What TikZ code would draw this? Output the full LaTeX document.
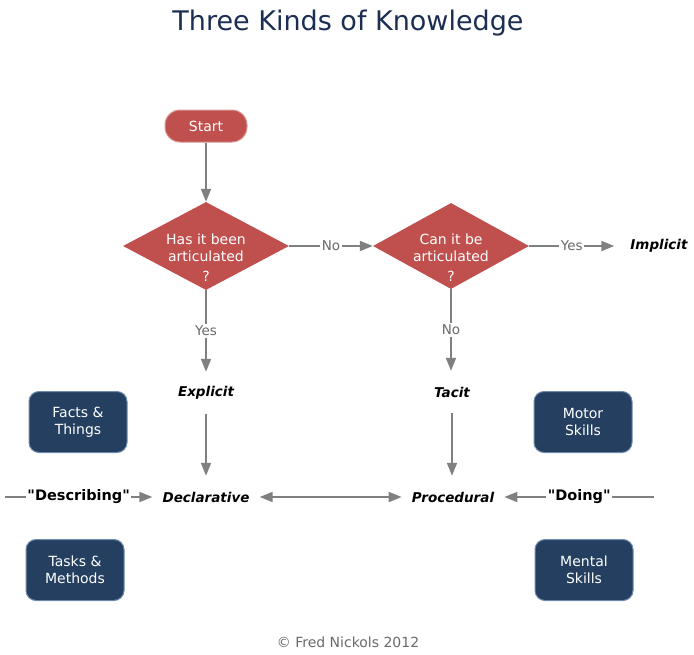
\documentclass[tikz,border=0pt]{standalone}
\usepackage{fontspec}
\setmainfont{DejaVu Sans}
\usetikzlibrary{shapes.geometric,arrows.meta}
\definecolor{kred}{HTML}{C0504D}
\definecolor{kredline}{HTML}{D99694}
\definecolor{kblue}{HTML}{243F60}
\definecolor{kblueline}{HTML}{6F8AAE}
\definecolor{kgray}{HTML}{808080}
\definecolor{klabel}{HTML}{6A6A6A}
\definecolor{ktitle}{HTML}{1C2E52}
\tikzset{
  flow/.style={draw=kgray, line width=1.8pt, -{Triangle[length=13pt,width=10pt]}},
  both/.style={draw=kgray, line width=1.8pt, {Triangle[length=13pt,width=10pt]}-{Triangle[length=13pt,width=10pt]}},
  startbox/.style={rectangle, rounded corners=15pt, fill=kred, draw=kredline, line width=1pt,
    minimum width=82pt, minimum height=32pt, text=white},
  decision/.style={diamond, fill=kred, inner sep=0pt},
  decisiontext/.style={text=white, align=center, yshift=-12pt},
  kind/.style={font=\fontsize{13.5}{16}\bfseries\itshape, inner xsep=10pt, minimum height=42pt},
  skill/.style={rectangle, rounded corners=10pt, fill=kblue, draw=kblueline, line width=1pt,
    minimum width=98pt, minimum height=61pt, text=white, align=center},
  edgetext/.style={fill=white, text=klabel, inner sep=1.5pt, font=\fontsize{13.5}{16}\selectfont},
  quotetext/.style={fill=white, inner sep=1.5pt, font=\fontsize{14.5}{17}\bfseries}
}
\begin{document}
\begin{tikzpicture}[x=1pt,y=-1pt,font=\fontsize{14}{17}\selectfont]
\useasboundingbox (0,0) rectangle (694,654);

\node[anchor=base, text=ktitle, font=\fontsize{27}{32}\selectfont] (title) at (348,30) {Three Kinds of Knowledge};

\node[startbox] (start) at (206,126) {Start};
\node[decision, minimum width=166pt, minimum height=88pt,
  label={[decisiontext]center:{Has it been\\articulated\\[3pt]?}}] (said) at (206,246) {};
\node[decision, minimum width=156pt, minimum height=86pt,
  label={[decisiontext]center:{Can it be\\articulated\\[3pt]?}}] (can) at (451,246) {};

\node[kind, inner xsep=16pt] (implicit) at (659,246) {Implicit};
\node[kind] (explicit) at (206,393) {Explicit};
\node[kind] (tacit) at (452,392) {Tacit};
\node[kind] (declarative) at (206,497) {Declarative};
\node[kind] (procedural) at (453,497) {Procedural};

\foreach \name/\pos/\txt in {facts/{78,422}/{Facts \&\\Things}, tasks/{75,570}/{Tasks \&\\Methods},
  motor/{583,422}/{Motor\\Skills}, mental/{584,570}/{Mental\\Skills}}{
    \node[skill] (\name) at (\pos) {\txt};
}

\coordinate (describing) at (5,497);
\coordinate (doing) at (654,497);

\draw[flow] (start) -- (said);
\draw[flow] (said) -- node[edgetext]{No} (can);
\draw[flow] (can) -- node[edgetext]{Yes} (implicit);
\draw[flow] (said) -- node[edgetext]{Yes} (explicit);
\draw[flow] (can) -- node[edgetext]{No} (can |- tacit.north);
\draw[flow] (explicit) -- (declarative);
\draw[flow] (tacit) -- (tacit |- procedural.north);
\draw[both] (declarative) -- (procedural);
\draw[flow] (describing) -- node[quotetext]{\textquotedbl Describing\textquotedbl} (declarative);
\draw[flow] (doing) -- node[quotetext]{\textquotedbl Doing\textquotedbl} (procedural);

\node[anchor=base, text=klabel] (credit) at (348,647) {© Fred Nickols 2012};
\end{tikzpicture}
\end{document}
